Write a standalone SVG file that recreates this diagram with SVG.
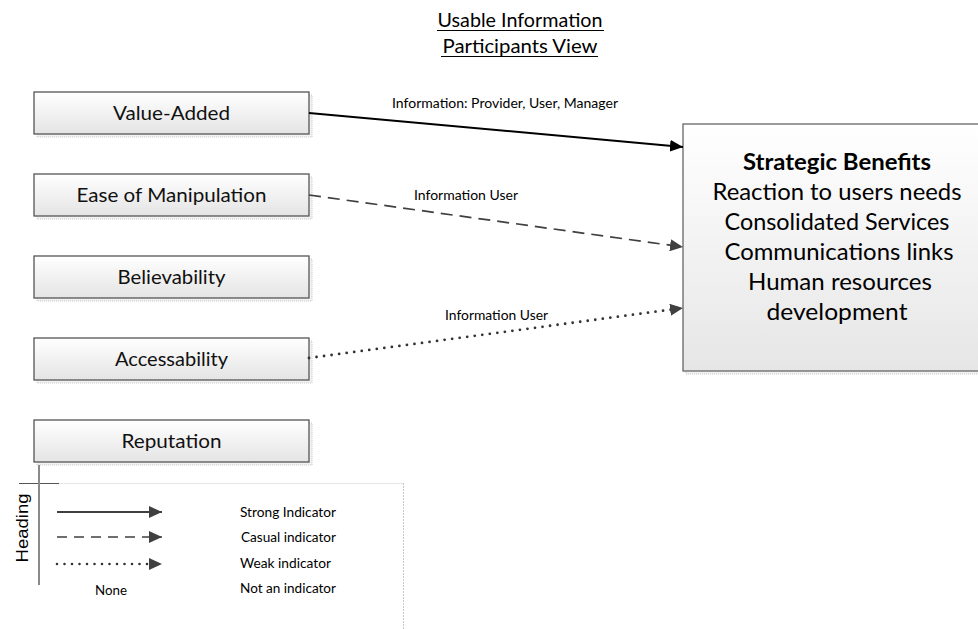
<svg xmlns="http://www.w3.org/2000/svg" width="978" height="629" viewBox="0 0 978 629">
  <defs>
    <linearGradient id="boxFill" x1="0" y1="0" x2="0" y2="1">
      <stop offset="0" stop-color="#ffffff"/>
      <stop offset="1" stop-color="#e4e4e4"/>
    </linearGradient>
    <linearGradient id="bigFill" x1="0" y1="0" x2="0" y2="1">
      <stop offset="0" stop-color="#ffffff"/>
      <stop offset="1" stop-color="#e6e6e6"/>
    </linearGradient>
    <marker id="headBlack" viewBox="0 0 13 12" refX="13" refY="6" markerWidth="13" markerHeight="12" markerUnits="userSpaceOnUse" orient="auto">
      <path d="M0,0 L13,6 L0,12 z" fill="#000"/>
    </marker>
    <marker id="headGray" viewBox="0 0 13 12" refX="13" refY="6" markerWidth="13" markerHeight="12" markerUnits="userSpaceOnUse" orient="auto">
      <path d="M0,0 L13,6 L0,12 z" fill="#404040"/>
    </marker>
  </defs>
  <style>
    .shadow { fill: #f2f2f2; stroke: #c8c8c8; stroke-width: 1; stroke-dasharray: 1 1; }
    .box { fill: url(#boxFill); stroke: #555; stroke-width: 1.3; }
    .big { fill: url(#bigFill); stroke: #666; stroke-width: 1.3; }
    .lbl { font-family: Lato, "Open Sans", sans-serif; font-size: 20px; fill: #111; text-anchor: middle; }
    .bigtxt { font-family: Lato, "Open Sans", sans-serif; font-size: 23px; fill: #000; text-anchor: middle; }
    .title { font-family: Lato, "Open Sans", sans-serif; font-size: 19px; fill: #000; text-anchor: middle; }
    .edge { font-family: Lato, "Open Sans", sans-serif; font-size: 13.5px; fill: #000; }
    .leg { font-family: Lato, "Open Sans", sans-serif; font-size: 13.5px; fill: #000; }
    .solid { stroke: #000; stroke-width: 2; fill: none; }
    .dashed { stroke: #404040; stroke-width: 1.7; fill: none; stroke-dasharray: 12 7; }
    .dotted { stroke: #333; stroke-width: 2.8; fill: none; stroke-dasharray: 0 7.6; stroke-linecap: round; }
  </style>
  <rect width="978" height="629" fill="#fff"/>

  <!-- title -->
  <g id="title">
    <text class="title" x="520" y="27" textLength="165" lengthAdjust="spacingAndGlyphs">Usable Information</text>
    <line x1="437" y1="30.5" x2="604" y2="30.5" stroke="#000" stroke-width="1.2"/>
    <text class="title" x="520" y="53" textLength="155" lengthAdjust="spacingAndGlyphs">Participants View</text>
    <line x1="441" y1="56.5" x2="598" y2="56.5" stroke="#000" stroke-width="1.2"/>
  </g>

  <!-- left-hand quality nodes -->
  <g id="value-added">
    <rect class="shadow" x="37" y="95" width="275" height="42"/>
    <rect class="box" x="34" y="92" width="275" height="42"/>
    <text class="lbl" x="171.5" y="119.5" textLength="117" lengthAdjust="spacingAndGlyphs">Value-Added</text>
  </g>
  <g id="ease-of-manipulation">
    <rect class="shadow" x="37" y="177" width="275" height="42"/>
    <rect class="box" x="34" y="174" width="275" height="42"/>
    <text class="lbl" x="171.5" y="201.5" textLength="190" lengthAdjust="spacingAndGlyphs">Ease of Manipulation</text>
  </g>
  <g id="believability">
    <rect class="shadow" x="37" y="259" width="275" height="42"/>
    <rect class="box" x="34" y="256" width="275" height="42"/>
    <text class="lbl" x="171.5" y="283.5" textLength="108" lengthAdjust="spacingAndGlyphs">Believability</text>
  </g>
  <g id="accessability">
    <rect class="shadow" x="37" y="341" width="275" height="42"/>
    <rect class="box" x="34" y="338" width="275" height="42"/>
    <text class="lbl" x="171.5" y="365.5" textLength="113" lengthAdjust="spacingAndGlyphs">Accessability</text>
  </g>
  <g id="reputation">
    <rect class="shadow" x="37" y="423" width="275" height="42"/>
    <rect class="box" x="34" y="420" width="275" height="42"/>
    <text class="lbl" x="171.5" y="447.5" textLength="100" lengthAdjust="spacingAndGlyphs">Reputation</text>
  </g>

  <!-- target node -->
  <g id="strategic-benefits">
    <rect class="shadow" x="686" y="127" width="310" height="247"/>
    <rect class="big" x="683" y="124" width="310" height="247"/>
    <text class="bigtxt" x="837" y="170" font-weight="bold" textLength="188" lengthAdjust="spacingAndGlyphs">Strategic Benefits</text>
    <text class="bigtxt" x="837" y="200" textLength="249" lengthAdjust="spacingAndGlyphs">Reaction to users needs</text>
    <text class="bigtxt" x="837" y="230" textLength="225" lengthAdjust="spacingAndGlyphs">Consolidated Services</text>
    <text class="bigtxt" x="839" y="260" textLength="229" lengthAdjust="spacingAndGlyphs">Communications links</text>
    <text class="bigtxt" x="840" y="290" textLength="184" lengthAdjust="spacingAndGlyphs">Human resources</text>
    <text class="bigtxt" x="837" y="320" textLength="141" lengthAdjust="spacingAndGlyphs">development</text>
  </g>

  <!-- connectors -->
  <g id="connectors">
    <line class="solid" x1="309" y1="113" x2="683" y2="147" marker-end="url(#headBlack)"/>
    <text class="edge" x="392" y="108" textLength="226" lengthAdjust="spacingAndGlyphs">Information: Provider, User, Manager</text>
    <line class="dashed" x1="309" y1="195" x2="683" y2="247" marker-end="url(#headGray)"/>
    <text class="edge" x="414" y="200" textLength="104" lengthAdjust="spacingAndGlyphs">Information User</text>
    <line class="dotted" x1="309" y1="358" x2="683" y2="308" marker-end="url(#headGray)"/>
    <text class="edge" x="445" y="320" textLength="103" lengthAdjust="spacingAndGlyphs">Information User</text>
  </g>

  <!-- legend -->
  <g id="legend">
    <line x1="59" y1="483.5" x2="403" y2="483.5" stroke="#e6e6e6" stroke-width="1"/>
    <line x1="403.5" y1="483" x2="403.5" y2="629" stroke="#c8c8c8" stroke-width="1" stroke-dasharray="2 1"/>
    <line x1="19" y1="483.5" x2="59" y2="483.5" stroke="#555" stroke-width="1"/>
    <line x1="39" y1="465" x2="39" y2="585" stroke="#8a8a8a" stroke-width="2"/>
    <text transform="translate(27.5,528) rotate(-90)" font-family="'Liberation Sans', Arial, sans-serif" font-size="17" text-anchor="middle" textLength="69" lengthAdjust="spacingAndGlyphs">Heading</text>

    <line x1="57" y1="512" x2="162" y2="512" stroke="#404040" stroke-width="2" marker-end="url(#headGray)"/>
    <line x1="57" y1="537" x2="162" y2="537" stroke="#404040" stroke-width="1.7" stroke-dasharray="10 7" marker-end="url(#headGray)"/>
    <line x1="57" y1="564" x2="162" y2="564" stroke="#333" stroke-width="2.6" stroke-dasharray="0 7.5" stroke-linecap="round" marker-end="url(#headGray)"/>
    <text class="leg" x="111" y="595" text-anchor="middle" textLength="32" lengthAdjust="spacingAndGlyphs">None</text>

    <text class="leg" x="240" y="517" textLength="96" lengthAdjust="spacingAndGlyphs">Strong Indicator</text>
    <text class="leg" x="241" y="542" textLength="95" lengthAdjust="spacingAndGlyphs">Casual indicator</text>
    <text class="leg" x="240" y="568" textLength="91" lengthAdjust="spacingAndGlyphs">Weak indicator</text>
    <text class="leg" x="240" y="593" textLength="96" lengthAdjust="spacingAndGlyphs">Not an indicator</text>
  </g>
</svg>
